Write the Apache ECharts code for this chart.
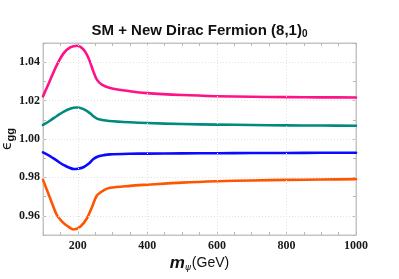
<!DOCTYPE html>
<html><head><meta charset="utf-8">
<script src="https://cdn.jsdelivr.net/npm/echarts@6/dist/echarts.min.js"></script>
<style>html,body{margin:0;padding:0;background:#fff}#c{width:399px;height:279px}</style>
</head><body><div id="c"></div>
<script>
// Data
const massPink   = [100,121,140,159,178,198,216,231,245,255,269,293,350,400,500,600,700,800,900,1000];
const pinkValues = [1.0222,1.0309,1.0386,1.0446,1.0477,1.0486,1.0467,1.0421,1.0351,1.0309,1.0283,1.0266,1.0249,1.0239,1.0229,1.0223,1.0220,1.0218,1.0217,1.0216];
const massTeal   = [100,120,140,160,180,195,215,235,245,255,270,290,350,400,500,600,700,800,900,1000];
const tealValues = [1.0073,1.0095,1.0120,1.0143,1.0159,1.0164,1.0157,1.0135,1.0118,1.0106,1.0099,1.0094,1.0087,1.0083,1.0078,1.0075,1.0073,1.0071,1.0070,1.0069];
const massBlue   = [100,120,140,160,188,200,216,232,245,260,275,293,350,400,500,600,700,800,900,1000];
const blueValues = [0.9930,0.9911,0.9887,0.9864,0.9844,0.9845,0.9853,0.9872,0.9896,0.9910,0.9916,0.9920,0.9923,0.9924,0.9925,0.9926,0.9927,0.9927,0.9928,0.9928];
const massOrange   = [100,121,140,155,169,188,207,226,241,255,274,293,350,400,500,600,700,800,900,1000];
const orangeValues = [0.9787,0.9689,0.9603,0.9570,0.9548,0.9529,0.9543,0.9586,0.9646,0.9706,0.9732,0.9746,0.9756,0.9762,0.9773,0.9780,0.9784,0.9787,0.9789,0.9791];
const xGridValues = [200,400,600,800];
const yGridValues = [0.96,0.98,1.00,1.02,1.04];
const titleMain = 'SM + New Dirac Fermion (8,1)';
const titleSub = '0';

const pair = (xs, ys) => xs.map((x, i) => [x, ys[i]]);
const lblStyle = {fontFamily:'Liberation Serif', fontWeight:'bold', fontSize:12, color:'#1a1a1a'};
const frameColor = '#c4c4c4';
const tickStyle = {show:true, inside:true, length:3, lineStyle:{color:'#b8b8b8', width:1}};

const chart = echarts.init(document.getElementById('c'), null, {renderer:'canvas'});
const lineSeries = (name, data, color) => ({
  name, type:'line', data, showSymbol:false, smooth:0.3,
  lineStyle:{color, width:2.6, cap:'round', join:'round'}, itemStyle:{color}, z:3
});
chart.setOption({
  animation:false,
  backgroundColor:'#fff',
  title:{
    text:'{a|' + titleMain + '}{b|' + titleSub + '}',
    left:'center', top:17,
    textStyle:{rich:{
      a:{fontFamily:'Liberation Sans', fontWeight:'bold', fontSize:15, color:'#111', lineHeight:18},
      b:{fontFamily:'Liberation Sans', fontWeight:'bold', fontSize:10, color:'#111', lineHeight:12, padding:[6,0,0,0]}
    }}
  },
  grid:{left:43, right:43, top:43, bottom:44, outerBoundsMode:'none', containLabel:false,
        show:true, borderColor:frameColor, borderWidth:1},
  xAxis:[{
    type:'value', min:100, max:1000, interval:50, position:'bottom',
    axisLine:{show:true, lineStyle:{color:frameColor}},
    axisTick:tickStyle,
    splitLine:{show:false},
    axisLabel:{...lblStyle, margin:5, formatter:v => (Math.round(v) % 200 === 0 ? String(Math.round(v)) : '')},
    name:'{m|m}{s|ψ}{g|(GeV)}', nameLocation:'middle', nameGap:20, nameMoveOverlap:false,
    nameTextStyle:{rich:{
      m:{fontFamily:'Liberation Sans', fontStyle:'italic', fontWeight:'bold', fontSize:17, color:'#111'},
      s:{fontFamily:'DejaVu Sans', fontStyle:'italic', fontSize:9, color:'#111', padding:[8,1,0,0]},
      g:{fontFamily:'Liberation Sans', fontSize:14, color:'#111'}
    }}
  },{
    type:'value', min:100, max:1000, interval:50, position:'top',
    axisLine:{show:true, lineStyle:{color:frameColor}}, axisTick:tickStyle,
    axisLabel:{show:false}, splitLine:{show:false}
  }],
  yAxis:[{
    type:'value', min:0.95, max:1.05, interval:0.01, position:'left',
    axisLine:{show:true, lineStyle:{color:frameColor}},
    axisTick:tickStyle,
    splitLine:{show:false},
    axisLabel:{...lblStyle, margin:3, formatter:v => {const k = Math.round(v*100); return k % 2 === 0 && k > 95 && k < 105 ? (k/100).toFixed(2) : '';}},
    name:'{e|ϵ}{s|gg}', nameLocation:'middle', nameGap:27, nameRotate:90, nameMoveOverlap:false,
    nameTextStyle:{rich:{
      e:{fontFamily:'DejaVu Sans', fontSize:14, color:'#111'},
      s:{fontFamily:'Liberation Sans', fontWeight:'bold', fontSize:11, color:'#111', padding:[6,0,0,0]}
    }}
  },{
    type:'value', min:0.95, max:1.05, interval:0.01, position:'right',
    axisLine:{show:true, lineStyle:{color:frameColor}}, axisTick:tickStyle,
    axisLabel:{show:false}, splitLine:{show:false}
  }],
  series:[
    {type:'line', data:[], z:1, silent:true,
     markLine:{silent:true, symbol:'none', label:{show:false}, animation:false,
       lineStyle:{color:'#e2e2e2', type:[1,2], width:1},
       data:[...xGridValues.map(v => ({xAxis:v})), ...yGridValues.map(v => ({yAxis:v}))]}},
    lineSeries('pink', pair(massPink, pinkValues), '#ff1188'),
    lineSeries('teal', pair(massTeal, tealValues), '#008a80'),
    lineSeries('blue', pair(massBlue, blueValues), '#0a0aff'),
    lineSeries('orange', pair(massOrange, orangeValues), '#ff5500')
  ]
});
</script></body></html>
